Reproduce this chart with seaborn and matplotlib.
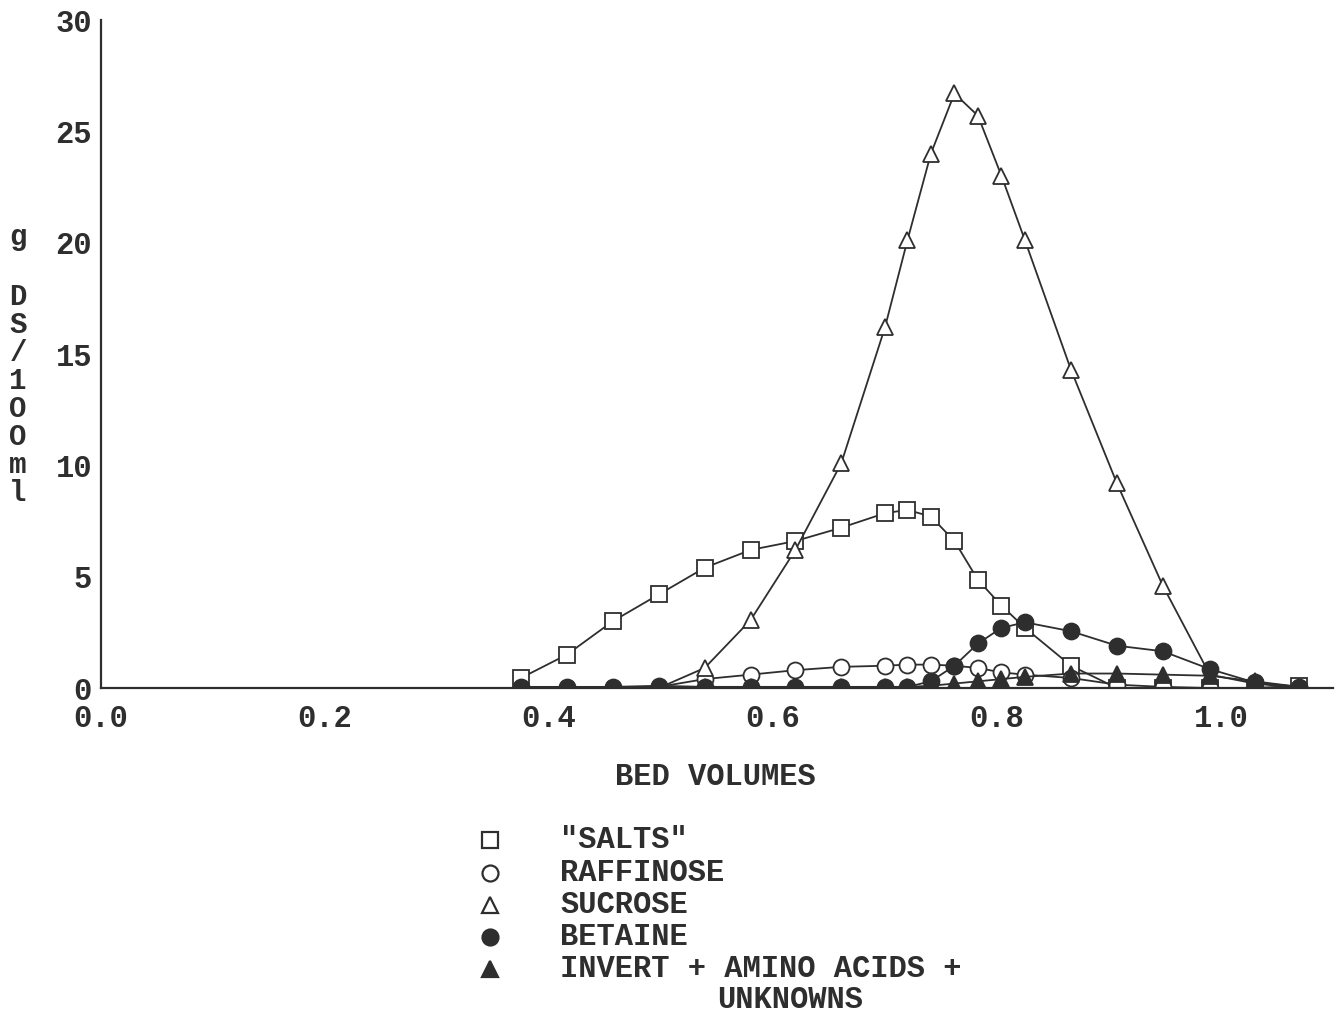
import matplotlib
matplotlib.use("Agg")
import matplotlib.pyplot as plt
import seaborn as sns
import pandas as pd

# bed volumes sampled (shared by every series)
bed_volumes = [0.375, 0.416, 0.457, 0.498, 0.539, 0.580, 0.620, 0.661, 0.700, 0.720,
               0.741, 0.762, 0.783, 0.804, 0.825, 0.866, 0.907, 0.948, 0.990, 1.030, 1.070]

salts     = [0.45, 1.5, 3.0, 4.2, 5.4, 6.2, 6.6, 7.2, 7.85, 8.0,
             7.7, 6.6, 4.85, 3.7, 2.7, 1.0, 0.0, 0.0, 0.0, 0.0, 0.1]
raffinose = [0.0, 0.0, 0.0, 0.05, 0.4, 0.6, 0.8, 0.95, 1.0, 1.05,
             1.05, 1.0, 0.9, 0.7, 0.6, 0.45, 0.15, 0.05, 0.0, 0.0, 0.0]
sucrose   = [0.0, 0.0, 0.0, 0.0, 0.9, 3.05, 6.2, 10.1, 16.2, 20.1,
             24.0, 26.7, 25.7, 23.0, 20.1, 14.3, 9.2, 4.6, 0.6, 0.2, 0.0]
betaine   = [0.05, 0.05, 0.05, 0.1, 0.05, 0.05, 0.05, 0.05, 0.05, 0.05,
             0.3, 1.0, 2.0, 2.7, 2.95, 2.55, 1.9, 1.65, 0.85, 0.25, 0.05]
invert    = [0.0, 0.0, 0.0, 0.0, 0.05, 0.05, 0.05, 0.05, 0.05, 0.05,
             0.1, 0.2, 0.3, 0.4, 0.5, 0.65, 0.65, 0.6, 0.55, 0.3, 0.05]

labels = ['"SALTS"', 'RAFFINOSE', 'SUCROSE', 'BETAINE', 'INVERT + AMINO ACIDS +']
markers = ['s', 'o', '^', 'o', '^']
filled = [False, False, False, True, True]
series = [salts, raffinose, sucrose, betaine, invert]
ylabel_chars = ['D', 'S', '/', '1', 'O', 'O', 'm', 'l']

ink = '#2e2e2e'
sns.set_style('white')
plt.rcParams['font.family'] = ['Liberation Mono', 'DejaVu Sans']
plt.rcParams['font.weight'] = 'bold'

fig = plt.figure(figsize=(13.36, 10.17), dpi=100)
ax = fig.add_axes([101 / 1336, 1 - 688 / 1017, 1232 / 1336, 668 / 1017])

for vals, mk, fl, lab in zip(series, markers, filled, labels):
    df = pd.DataFrame({'bv': bed_volumes, 'g': vals})
    sns.lineplot(data=df, x='bv', y='g', ax=ax, color=ink, linewidth=1.3,
                 marker=mk, markersize=12 if mk != 'o' else 11.5,
                 markerfacecolor=ink if fl else 'white',
                 markeredgecolor=ink, markeredgewidth=1.3, label=lab, legend=False)

ax.set_xlim(0, 1.1)
ax.set_ylim(0, 30)
ax.set_xticks([i / 10 for i in range(12)])
ax.set_xticklabels(['0.0', '', '0.2', '', '0.4', '', '0.6', '', '0.8', '', '1.0', ''])
ax.set_yticks([0, 5, 10, 15, 20, 25, 30])
ax.set_xlabel('')
ax.set_ylabel('')
sns.despine(ax=ax)
for s in ['left', 'bottom']:
    ax.spines[s].set_linewidth(1.6)
    ax.spines[s].set_color(ink)
ax.tick_params(axis='both', direction='inout', length=17, width=1.4, color=ink,
               labelsize=22, labelcolor=ink)
ax.tick_params(axis='y', pad=-2)
ax.tick_params(axis='x', pad=3)

# x axis title
fig.text(715 / 1336, 1 - 777 / 1017, 'BED VOLUMES', ha='center', va='center',
         fontsize=22, color=ink)

# stacked y axis title
fig.text(18 / 1336, 1 - 237 / 1017, 'g', ha='center', va='center', fontsize=21, color=ink)
for i, ch in enumerate(ylabel_chars):
    fig.text(18 / 1336, 1 - (297 + i * 28) / 1017, ch, ha='center', va='center',
             fontsize=21, color=ink)

# legend drawn in a pixel-space overlay
lax = fig.add_axes([0, 0, 1, 1], zorder=-1)
lax.set_xlim(0, 1336)
lax.set_ylim(1017, 0)
lax.axis('off')
rows = [840, 873, 905, 937, 969]
for yy, mk, fl, lab in zip(rows, markers, filled, labels):
    lax.plot([490], [yy], marker=mk, markersize=12 if mk != 'o' else 11.5,
             markerfacecolor=ink if fl else 'white', markeredgecolor=ink,
             markeredgewidth=1.6, linestyle='none')
    lax.text(560, yy, lab, ha='left', va='center', fontsize=22, color=ink)
lax.text(790, 1000, 'UNKNOWNS', ha='center', va='center', fontsize=22, color=ink)

fig.savefig('out.png', dpi=100)
